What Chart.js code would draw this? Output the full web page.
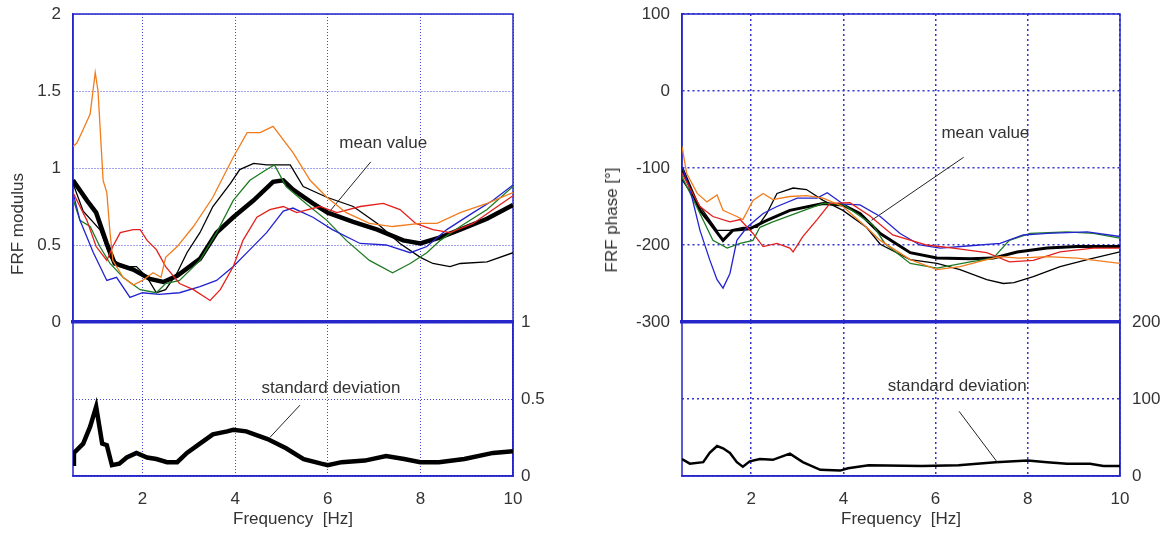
<!DOCTYPE html>
<html>
<head>
<meta charset="utf-8">
<script src="https://cdn.jsdelivr.net/npm/chart.js@4"></script>
<style>
  html, body { margin: 0; padding: 0; background: #fff; }
  #wrap { position: relative; width: 1168px; height: 535px; overflow: hidden; font-family: "Liberation Sans", Arial, sans-serif; }
  .box { position: absolute; }
  .ytitle { position: absolute; white-space: nowrap; font-size: 17px; color: #333; transform: translate(-50%, -50%) rotate(-90deg); }
</style>
</head>
<body>
<div id="wrap">
  <div class="box" style="left:0;top:0;"><canvas id="modTop" width="560" height="336"></canvas></div>
  <div class="box" style="left:0;top:300px;"><canvas id="modBot" width="560" height="235"></canvas></div>
  <div class="box" style="left:560px;top:0;"><canvas id="phTop" width="608" height="336"></canvas></div>
  <div class="box" style="left:560px;top:300px;"><canvas id="phBot" width="608" height="235"></canvas></div>
  <div class="ytitle" style="left:18px;top:224px;">FRF modulus</div>
  <div class="ytitle" style="left:612px;top:220px;">FRF phase [°]</div>
</div>
<script>
// tick values
const xTicks = [2, 4, 6, 8, 10];
const modTicks = [0, 0.5, 1, 1.5, 2];
const modStdTicks = [0, 0.5, 1];
const phTicks = [-300, -200, -100, 0, 100];
const phStdTicks = [0, 100, 200];

// FRF modulus, [frequency Hz, value]
const modOrange = [[0.5,1.14],[0.58,1.16],[0.72,1.25],[0.87,1.35],[0.98,1.62],[1.04,1.50],[1.15,0.92],[1.23,0.84],[1.3,0.58],[1.36,0.40],[1.58,0.29],[1.8,0.24],[2.0,0.27],[2.23,0.32],[2.4,0.29],[2.5,0.42],[2.75,0.49],[3.1,0.62],[3.52,0.81],[3.96,1.07],[4.26,1.23],[4.54,1.23],[4.82,1.27],[5.25,1.10],[5.62,0.92],[5.98,0.81],[6.4,0.71],[6.9,0.64],[7.4,0.62],[8.0,0.64],[8.36,0.64],[8.86,0.71],[9.44,0.77],[10,0.84]];
const modBlack = [[0.5,0.90],[0.72,0.72],[1.08,0.60],[1.3,0.42],[1.58,0.36],[1.87,0.36],[2.1,0.29],[2.3,0.19],[2.5,0.21],[2.75,0.32],[2.96,0.45],[3.24,0.58],[3.52,0.75],[3.9,0.90],[4.1,0.99],[4.4,1.03],[4.68,1.02],[5.19,1.02],[5.47,0.88],[5.98,0.81],[6.55,0.75],[7.07,0.64],[7.56,0.51],[8.0,0.42],[8.27,0.38],[8.64,0.36],[8.86,0.38],[9.44,0.39],[10,0.45]];
const modGreen = [[0.5,0.80],[0.65,0.66],[0.87,0.62],[1.08,0.49],[1.3,0.38],[1.58,0.29],[1.95,0.21],[2.3,0.19],[2.5,0.25],[2.8,0.27],[3.24,0.40],[3.6,0.58],[3.96,0.79],[4.32,0.92],[4.68,0.99],[4.85,1.02],[5.1,0.88],[5.53,0.77],[5.98,0.66],[6.4,0.53],[6.9,0.40],[7.4,0.32],[7.78,0.38],[8.14,0.45],[8.43,0.53],[8.86,0.62],[9.44,0.73],[10,0.88]];
const modRed = [[0.5,0.84],[0.8,0.66],[1.0,0.49],[1.23,0.40],[1.36,0.49],[1.52,0.58],[1.8,0.60],[1.95,0.60],[2.1,0.53],[2.3,0.47],[2.5,0.36],[2.8,0.25],[3.1,0.21],[3.46,0.14],[3.68,0.21],[3.96,0.36],[4.17,0.53],[4.47,0.68],[4.75,0.73],[5.04,0.75],[5.33,0.71],[5.83,0.75],[6.2,0.71],[6.7,0.75],[7.2,0.77],[7.56,0.73],[7.9,0.64],[8.27,0.60],[8.64,0.58],[9.14,0.64],[9.57,0.73],[10,0.82]];
const modBlue = [[0.5,0.84],[0.65,0.66],[0.94,0.45],[1.23,0.27],[1.44,0.29],[1.73,0.16],[2.0,0.19],[2.36,0.18],[2.8,0.19],[3.24,0.23],[3.6,0.27],[3.96,0.36],[4.32,0.47],[4.68,0.58],[5.04,0.72],[5.25,0.74],[5.68,0.68],[6.1,0.60],[6.7,0.51],[7.26,0.50],[7.78,0.45],[8.14,0.49],[8.57,0.60],[9.14,0.71],[9.57,0.79],[10,0.89]];
const modMean = [[0.5,0.92],[0.8,0.79],[1.0,0.71],[1.23,0.51],[1.4,0.38],[1.8,0.34],[2.16,0.28],[2.45,0.26],[2.75,0.30],[3.24,0.41],[3.6,0.58],[3.96,0.68],[4.4,0.79],[4.82,0.91],[5.04,0.92],[5.25,0.86],[5.68,0.77],[6.0,0.71],[6.55,0.65],[7.07,0.60],[7.63,0.53],[8.0,0.51],[8.43,0.55],[8.86,0.60],[9.44,0.67],[10,0.76]];
const modStd = [[0.5,0.08],[0.52,0.15],[0.72,0.21],[0.87,0.32],[1.0,0.45],[1.13,0.21],[1.23,0.20],[1.34,0.07],[1.5,0.08],[1.66,0.12],[1.87,0.15],[2.1,0.12],[2.3,0.11],[2.53,0.09],[2.75,0.09],[2.96,0.15],[3.24,0.21],[3.52,0.27],[3.83,0.29],[3.96,0.30],[4.24,0.29],[4.7,0.24],[5.1,0.18],[5.48,0.11],[5.86,0.08],[6.0,0.07],[6.3,0.09],[6.8,0.10],[7.26,0.13],[7.65,0.11],[8.0,0.09],[8.4,0.09],[8.95,0.11],[9.57,0.15],[10,0.16]];

// FRF phase, [frequency Hz, degrees]
const phOrange = [[0.5,-72],[0.6,-107],[0.83,-133],[1.04,-144],[1.26,-135],[1.39,-155],[1.69,-163],[1.82,-167],[2.04,-142],[2.26,-133],[2.47,-141],[2.84,-137],[3.2,-136],[3.56,-139],[3.99,-150],[4.5,-177],[4.8,-194],[5.45,-219],[6.03,-232],[6.53,-228],[7.11,-219],[7.4,-215],[7.8,-217],[8.42,-215],[9.07,-217],[10,-224]];
const phBlack = [[0.5,-115],[0.89,-150],[1.26,-181],[1.54,-181],[1.82,-177],[2.13,-177],[2.34,-159],[2.56,-133],[2.91,-126],[3.2,-128],[3.56,-142],[3.99,-155],[4.5,-177],[4.8,-199],[5.45,-219],[6.03,-224],[6.53,-232],[7.11,-245],[7.47,-250],[7.7,-249],[8.12,-241],[8.7,-228],[9.29,-219],[10,-209]];
const phGreen = [[0.5,-111],[0.89,-159],[1.17,-194],[1.48,-204],[1.76,-198],[2.04,-194],[2.19,-177],[2.47,-170],[2.97,-159],[3.56,-146],[3.99,-147],[4.64,-174],[4.9,-198],[5.45,-224],[6.03,-230],[6.75,-222],[7.25,-217],[7.6,-194],[8.05,-185],[8.85,-183],[9.42,-185],[10,-191]];
const phRed = [[0.5,-107],[0.67,-126],[0.89,-150],[1.17,-163],[1.54,-170],[1.76,-167],[2.04,-185],[2.26,-202],[2.56,-198],[2.84,-204],[2.91,-209],[3.12,-189],[3.43,-167],[3.71,-146],[4.14,-145],[4.57,-162],[5.07,-187],[5.81,-200],[6.38,-204],[7.11,-210],[7.6,-222],[8.12,-220],[8.7,-209],[9.42,-204],[10,-204]];
const phBlue = [[0.5,-98],[0.67,-127],[0.89,-181],[1.1,-219],[1.26,-245],[1.39,-256],[1.54,-237],[1.69,-194],[1.91,-177],[2.26,-159],[2.56,-150],[3.0,-139],[3.43,-139],[3.65,-132],[4.0,-147],[4.36,-148],[4.8,-163],[5.23,-185],[5.66,-200],[6.1,-204],[6.75,-201],[7.4,-198],[7.9,-187],[8.42,-185],[9.29,-183],[10,-189]];
const phMean = [[0.5,-100],[0.67,-124],[0.89,-155],[1.1,-171],[1.39,-194],[1.6,-181],[1.97,-179],[2.34,-168],[2.84,-155],[3.56,-146],[3.99,-148],[4.36,-159],[4.8,-185],[5.45,-210],[6.03,-217],[6.75,-218],[7.25,-217],[7.77,-209],[8.42,-204],[9.07,-202],[10,-202]];
const phStd = [[0.5,22],[0.67,16],[0.96,18],[1.1,30],[1.26,39],[1.39,36],[1.54,30],[1.69,18],[1.82,12],[1.97,19],[2.19,22],[2.47,21],[2.84,29],[3.12,18],[3.5,8],[3.93,7],[4.1,10],[4.55,14],[5.7,13],[6.5,14],[7.3,18],[8.0,20],[8.42,18],[8.85,16],[9.35,16],[9.64,13],[10,13]];

// leader lines for the labels
const modMeanLeader = [[6.93,1.04],[6.02,0.71]];
const modStdLeader = [[5.4,0.46],[4.75,0.25]];
const phMeanLeader = [[6.61,-86],[4.61,-168]];
const phStdLeader = [[6.51,84],[7.35,17]];

const FONT = '"Liberation Sans", Arial, sans-serif';
const TXT = '#333';
Chart.defaults.font.family = FONT;
Chart.defaults.font.size = 17;
Chart.defaults.color = TXT;

// blue frame around plot area
const framePlugin = {
  id: 'frame',
  beforeDatasetsDraw(chart, args, opts) {
    const { ctx, chartArea: a } = chart;
    ctx.save();
    ctx.strokeStyle = opts.color;
    ctx.lineWidth = opts.width;
    ctx.strokeRect(a.left, a.top, a.right - a.left, a.bottom - a.top);
    ctx.restore();
  }
};

// "mean value" / "standard deviation" texts
const notesPlugin = {
  id: 'notes',
  afterDatasetsDraw(chart, args, opts) {
    const { ctx, scales } = chart;
    ctx.save();
    ctx.font = '17px ' + FONT;
    ctx.fillStyle = TXT;
    ctx.textAlign = 'center';
    ctx.textBaseline = 'middle';
    (opts.items || []).forEach(n => {
      ctx.fillText(n.text, scales.x.getPixelForValue(n.x), scales.y.getPixelForValue(n.y));
    });
    ctx.restore();
  }
};

function line(pts, color, width) {
  return {
    data: pts.map(([x, y]) => ({ x, y })),
    borderColor: color,
    borderWidth: width,
    pointRadius: 0,
    tension: 0,
    fill: false
  };
}

function panelChart(id, o) {
  return new Chart(document.getElementById(id), {
    type: 'line',
    data: { datasets: o.series },
    options: {
      responsive: false,
      animation: false,
      layout: { padding: o.padding },
      plugins: {
        legend: { display: false },
        tooltip: { enabled: false },
        frame: { color: o.blue, width: 1.5 },
        notes: { items: o.notes }
      },
      scales: {
        x: {
          type: 'linear', min: 0.5, max: 10,
          afterBuildTicks: s => { s.ticks = xTicks.map(v => ({ value: v })); },
          afterFit: s => { s.height = o.xHeight; },
          ticks: { display: o.xLabels, padding: 13, callback: v => String(v) },
          title: { display: o.xLabels, text: 'Frequency  [Hz]', padding: { top: 0, bottom: 5 } },
          grid: { color: o.gridColor, lineWidth: o.gridWidth, drawTicks: false },
          border: { color: o.blue, width: o.xBorder, dash: o.dash }
        },
        y: {
          type: 'linear', position: o.yPos,
          min: o.yTicks[0], max: o.yTicks[o.yTicks.length - 1],
          afterBuildTicks: s => { s.ticks = o.yTicks.map(v => ({ value: v })); },
          // fixed axis width, and no extra room for the end labels
          afterFit: s => { s.width = o.yWidth; s.paddingTop = 0; s.paddingBottom = 0; },
          ticks: { padding: o.yPad, callback: v => String(v) },
          grid: { color: o.gridColor, lineWidth: o.gridWidth, drawTicks: false },
          border: { color: o.blue, width: 1.5, dash: o.dash }
        }
      }
    },
    plugins: [framePlugin, notesPlugin]
  });
}

const ORANGE = '#f27c1c', RED = '#e3201b', GREEN = '#1e7b22', BLUE = '#2323cf', BLACK = '#000';
const leftStyle = { blue: '#2626cc', gridColor: 'rgba(50,50,215,0.9)', gridWidth: 1, dash: [1, 2] };
const rightStyle = { blue: '#2626cc', gridColor: 'rgba(40,40,205,0.95)', gridWidth: 1.5, dash: [2, 3] };

panelChart('modTop', Object.assign({}, leftStyle, {
  series: [
    line(modOrange, ORANGE, 1.3), line(modRed, RED, 1.3), line(modBlue, BLUE, 1.3),
    line(modGreen, GREEN, 1.3), line(modBlack, BLACK, 1.3),
    line(modMeanLeader, '#222', 1), line(modMean, BLACK, 4.5)
  ],
  notes: [{ text: 'mean value', x: 7.2, y: 1.16 }],
  padding: { left: 0, right: 47, top: 14, bottom: 14 },
  yTicks: modTicks, yPos: 'left', yWidth: 73, yPad: 12,
  xHeight: 0, xLabels: false, xBorder: 3.5
}));

panelChart('modBot', Object.assign({}, leftStyle, {
  series: [line(modStdLeader, '#222', 1), line(modStd, BLACK, 4.5)],
  notes: [{ text: 'standard deviation', x: 6.07, y: 0.57 }],
  padding: { left: 73, right: 0, top: 22, bottom: 0 },
  yTicks: modStdTicks, yPos: 'right', yWidth: 47, yPad: 8,
  xHeight: 59, xLabels: true, xBorder: 1.5
}));

panelChart('phTop', Object.assign({}, rightStyle, {
  series: [
    line(phOrange, ORANGE, 1.3), line(phRed, RED, 1.3), line(phBlue, BLUE, 1.3),
    line(phGreen, GREEN, 1.3), line(phBlack, BLACK, 1.3),
    line(phMeanLeader, '#222', 1), line(phMean, BLACK, 3)
  ],
  notes: [{ text: 'mean value', x: 7.08, y: -55 }],
  padding: { left: 0, right: 48, top: 14, bottom: 14 },
  yTicks: phTicks, yPos: 'left', yWidth: 122, yPad: 12,
  xHeight: 0, xLabels: false, xBorder: 3.5
}));

panelChart('phBot', Object.assign({}, rightStyle, {
  series: [line(phStdLeader, '#222', 1), line(phStd, BLACK, 2.5)],
  notes: [{ text: 'standard deviation', x: 6.47, y: 116 }],
  padding: { left: 122, right: 0, top: 22, bottom: 0 },
  yTicks: phStdTicks, yPos: 'right', yWidth: 48, yPad: 12,
  xHeight: 59, xLabels: true, xBorder: 1.5
}));
</script>
</body>
</html>
